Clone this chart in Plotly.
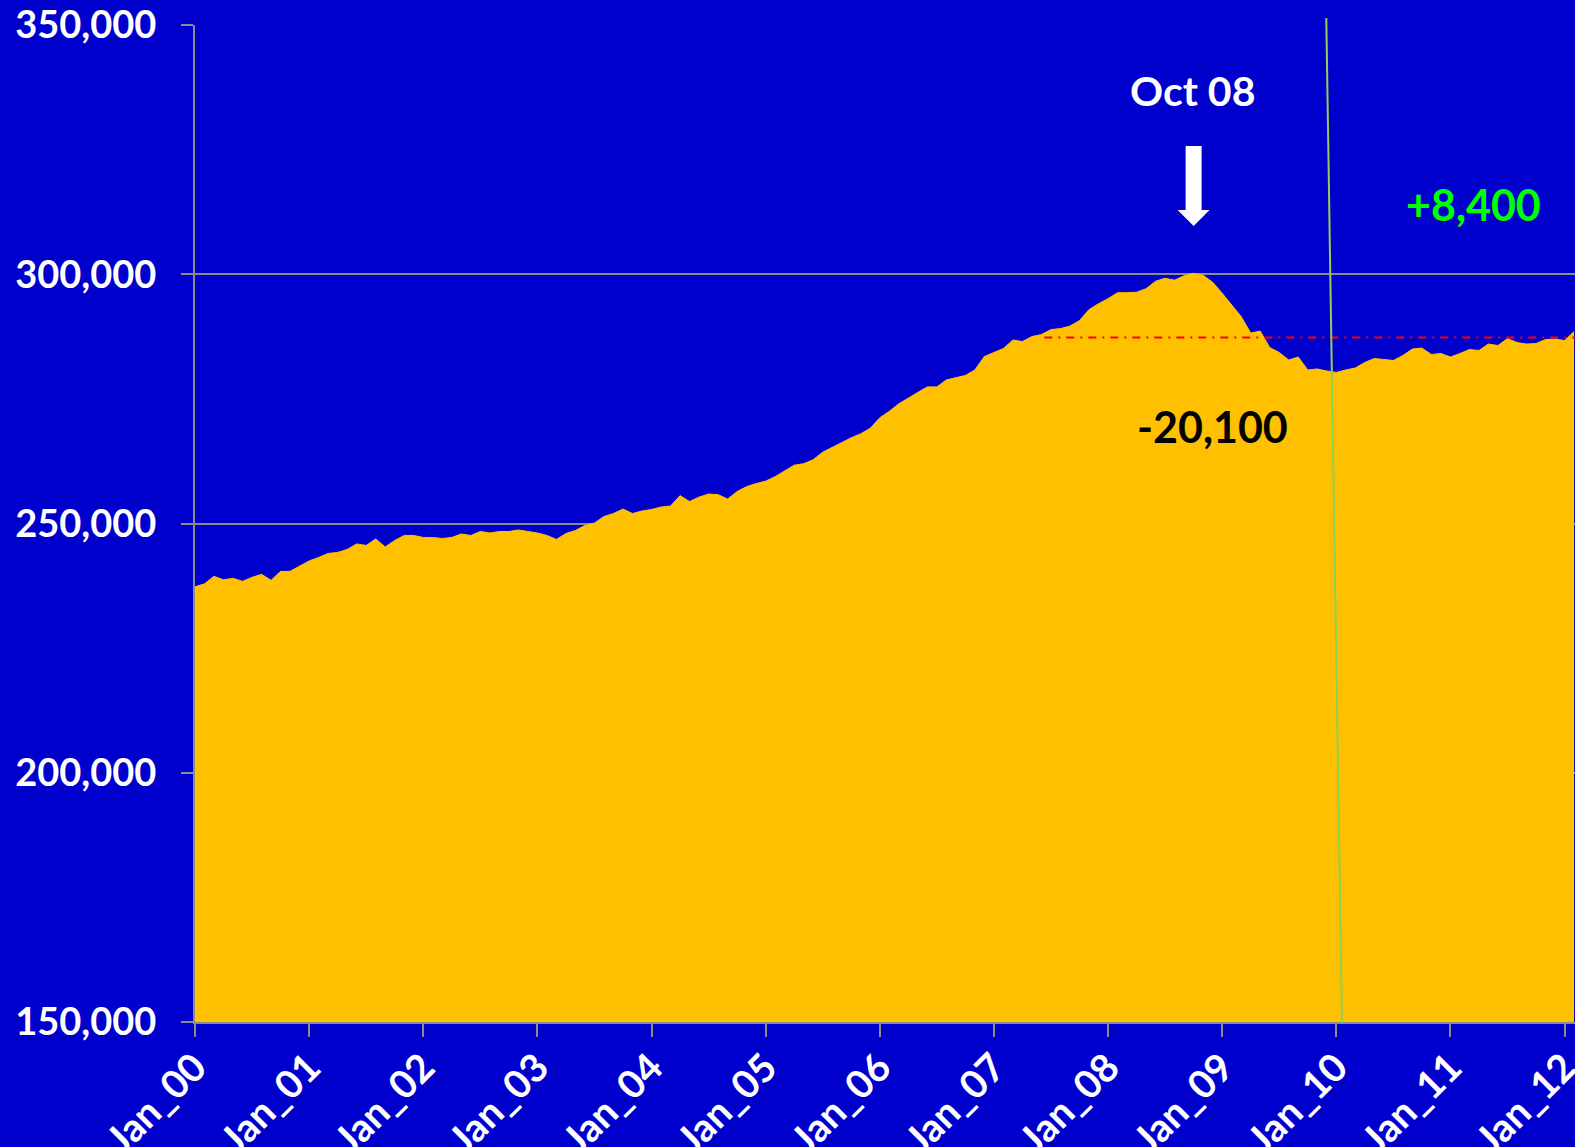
import plotly.graph_objects as go

# ---- data ----
month_names = ["Jan", "Feb", "Mar", "Apr", "May", "Jun", "Jul", "Aug", "Sep", "Oct", "Nov", "Dec"]
months = [f"{month_names[m]}_{y:02d}" for y in range(0, 13) for m in range(12)][:146]

employment = [
    237300, 237900, 239400, 238700, 239000, 238400, 239200, 239800, 238600, 240400, 240400, 241500,
    242500, 243200, 244000, 244200, 244800, 245900, 245600, 246900, 245300, 246600, 247600, 247600,
    247200, 247200, 247000, 247200, 247900, 247600, 248400, 248100, 248400, 248400, 248700, 248400,
    248100, 247600, 246800, 248000, 248600, 249600, 250100, 251400, 252000, 252900, 252000, 252500,
    252800, 253300, 253500, 255600, 254400, 255300, 255900, 255800, 254900, 256400, 257400, 258000,
    258500, 259400, 260500, 261700, 262000, 262800, 264300, 265300, 266300, 267200, 268000, 269100,
    271200, 272500, 274000, 275200, 276300, 277400, 277400, 278800, 279200, 279700, 280800, 283500,
    284300, 285100, 286800, 286500, 287500, 287900, 288900, 289100, 289600, 290700, 292900, 294100,
    295100, 296300, 296300, 296400, 297100, 298600, 299200, 298800, 299700, 300200, 299800, 298400,
    296200, 293900, 291500, 288200, 288600, 285300, 284300, 282800, 283400, 280800, 281000, 280600,
    280300, 280800, 281200, 282300, 283100, 282900, 282700, 283700, 285000, 285200, 283900, 284100,
    283400, 284100, 284900, 284700, 286000, 285700, 287100, 286300, 286000, 286100, 286900, 287000,
    286700, 288500,
]

tick_labels = ["Jan_00", "Jan_01", "Jan_02", "Jan_03", "Jan_04", "Jan_05", "Jan_06",
               "Jan_07", "Jan_08", "Jan_09", "Jan_10", "Jan_11", "Jan_12"]
y_ticks = [150000, 200000, 250000, 300000, 350000]

peak_label = "Oct 08"
peak_month = "Oct_08"
loss_label = "-20,100"
gain_label = "+8,400"
ref_level = 287300       # red dash-dot reference level
ref_start = 89.3         # month index where the reference line starts

BLUE = "#0000CC"
GOLD = "#FFC000"
GRAY = "#8C8C8C"
FONT = "Lato"

fig = go.Figure()
fig.add_trace(go.Scatter(
    x=months, y=employment, mode="lines", fill="tozeroy",
    fillcolor=GOLD, line=dict(color=GOLD, width=1), hoverinfo="skip",
    showlegend=False,
))

peak_idx = months.index(peak_month)

shapes = [
    # red dash-dot reference line
    dict(type="line", xref="x", yref="y", x0=ref_start, x1=145.1, y0=ref_level, y1=ref_level,
         line=dict(color="#FF0000", width=2, dash="8px,6px,2px,6px"), layer="above"),
    # green slanted line
    dict(type="line", xref="x", yref="paper", x0=118.95, x1=120.6, y0=1.007, y1=-0.001,
         line=dict(color="#92D050", width=2), layer="above"),
    # white down arrow at Oct 08
    dict(type="path", xref="x", yref="paper",
         path=(f"M {peak_idx-0.84},0.8786 L {peak_idx+0.84},0.8786 L {peak_idx+0.84},0.8144 "
               f"L {peak_idx+1.68},0.8144 L {peak_idx},0.7984 L {peak_idx-1.68},0.8144 "
               f"L {peak_idx-0.84},0.8144 Z"),
         fillcolor="white", line=dict(width=0), layer="above"),
]

annotations = [
    dict(x=peak_idx - 0.1, y=0.9348, xref="x", yref="paper", text=peak_label, showarrow=False,
         font=dict(family=FONT, size=41, color="white", weight="bold"), xanchor="center", yanchor="middle"),
    dict(x=134.4, y=0.8195, xref="x", yref="paper", text=gain_label, showarrow=False,
         font=dict(family=FONT, size=43, color="#00FF00", weight="bold"), xanchor="center", yanchor="middle"),
    dict(x=107.0, y=0.5968, xref="x", yref="paper", text=loss_label, showarrow=False,
         font=dict(family=FONT, size=43, color="black", weight="bold"), xanchor="center", yanchor="middle"),
]

fig.update_layout(
    width=1575, height=1147,
    margin=dict(l=195, r=0, t=25, b=125, autoexpand=False),
    paper_bgcolor=BLUE, plot_bgcolor=BLUE,
    shapes=shapes, annotations=annotations,
    showlegend=False,
)

fig.update_xaxes(
    type="category", range=[0, 145.1], automargin=False,
    tickmode="array", tickvals=tick_labels, ticktext=tick_labels,
    tickangle=-45, tickfont=dict(family=FONT, size=39, color="white", weight="bold"),
    showgrid=False, showline=True, linecolor=GRAY, linewidth=2,
    ticks="outside", ticklen=13, tickwidth=2, tickcolor=GRAY,
    ticklabelstandoff=-8, zeroline=False,
)
fig.update_yaxes(
    range=[150000, 350000], tickmode="array", tickvals=y_ticks, tickformat=",", automargin=False,
    tickfont=dict(family=FONT, size=38, color="white", weight="bold"),
    showgrid=True, gridcolor=GRAY, gridwidth=2,
    showline=True, linecolor=GRAY, linewidth=2,
    ticks="outside", ticklen=12, tickwidth=2, tickcolor=GRAY,
    ticklabelstandoff=17, zeroline=False,
)

fig.write_html(
    "out.html",
    config={"displayModeBar": False},
    post_script="document.body.style.margin='0';document.body.style.background='#0000CC';"
                "document.documentElement.style.overflow='hidden';",
)
